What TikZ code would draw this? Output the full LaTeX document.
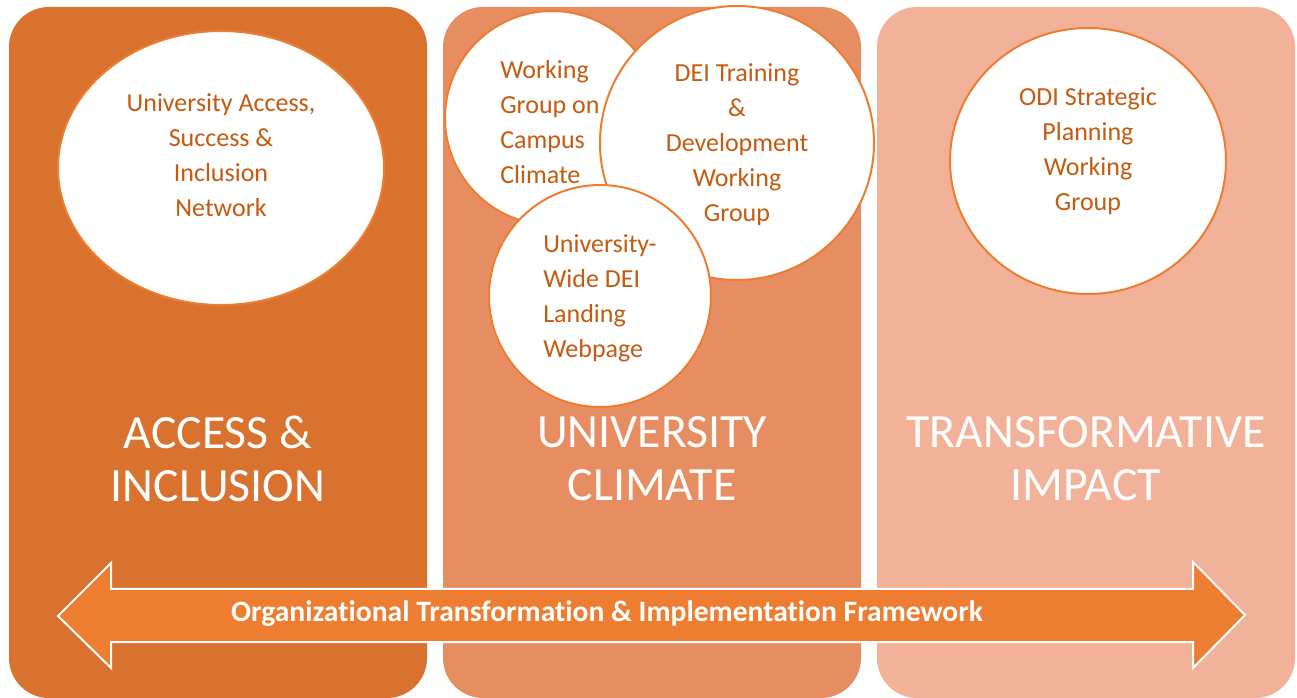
\documentclass[tikz,border=0pt]{standalone}
\usepackage{fontspec}
\setmainfont[Ligatures=NoCommon]{Carlito}
\usetikzlibrary{shapes.geometric}

\definecolor{accessfill}{RGB}{216,114,46}
\definecolor{climatefill}{RGB}{230,142,98}
\definecolor{impactfill}{RGB}{242,178,154}
\definecolor{arrowfill}{RGB}{237,125,49}
\definecolor{bubbleline}{RGB}{237,125,49}
\definecolor{bubbleink}{RGB}{197,90,17}

\begin{document}
\begin{tikzpicture}[x=0.75pt, y=-0.75pt,
  panel/.style={rounded corners=30pt},
  bubble/.style={draw=bubbleline, fill=white, line width=1.5pt, inner sep=0pt},
  bubbletext/.style={text=bubbleink, font=\fontsize{19.5}{26.25}\selectfont, inner sep=0pt},
  heading/.style={text=white, font=\fontsize{35.8}{39.75}\selectfont, align=center, inner sep=0pt}]
\useasboundingbox (0,0) rectangle (1297,698);

\fill[accessfill, panel] (9,7) rectangle (427,698);
\fill[climatefill, panel] (443,7) rectangle (861,698);
\fill[impactfill, panel] (877,7) rectangle (1295,698);

\node[bubble, ellipse, minimum width=244.5pt, minimum height=205.5pt] (network) at (221,168) {};
\node[bubbletext, align=center] (networktext) at (221,155) {University Access,\\ Success \&\\ Inclusion\\ Network};

\node[bubble, circle, minimum size=160.5pt] (campus) at (552,118) {};
\node[bubbletext, align=left, anchor=west] (campustext) at (500,122) {Working\\ Group on\\ Campus\\ Climate};

\node[bubble, circle, minimum size=205.5pt] (training) at (737,143) {};
\node[bubbletext, align=center] (trainingtext) at (737,145) {DEI Training\\ \&\\ Development\\ Working\\ Group};

\node[bubble, circle, minimum size=166.5pt] (webpage) at (600,296) {};
\node[bubbletext, align=left, anchor=west] (webpagetext) at (543,298) {University-\\ Wide DEI\\ Landing\\ Webpage};

\node[bubble, ellipse, minimum width=207pt, minimum height=199.5pt] (planning) at (1088,161) {};
\node[bubbletext, align=center] (planningtext) at (1088,151) {ODI Strategic\\ Planning\\ Working\\ Group};

\node[heading] (access) at (218,459) {ACCESS \&\\ INCLUSION};
\node[heading] (climate) at (652,459) {UNIVERSITY\\ CLIMATE};
\node[heading] (impact) at (1086,459) {TRANSFORMATIVE\\ IMPACT};

\draw[white, line width=1.5pt, fill=arrowfill] (58,616) -- (111,563) -- (111,589) -- (1193,589) -- (1193,562) -- (1245,615)
  -- (1193,668) -- (1193,642) -- (111,642) -- (111,668) -- cycle;
\node[text=white, font=\bfseries\fontsize{22.2}{26}\selectfont, inner sep=0pt] (framework) at (607,614) {Organizational Transformation \& Implementation Framework};
\end{tikzpicture}
\end{document}
